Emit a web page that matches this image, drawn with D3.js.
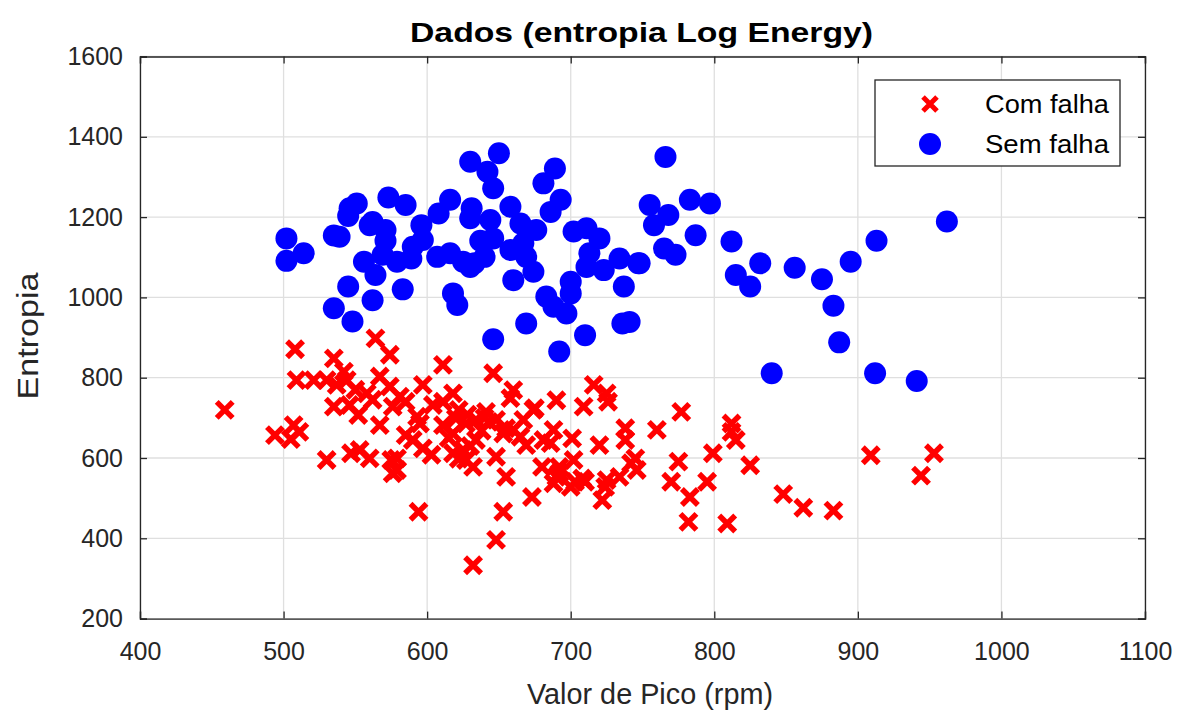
<!DOCTYPE html>
<html>
<head>
<meta charset="utf-8">
<title>Dados (entropia Log Energy)</title>
<style>
  body { margin: 0; background: #fff; }
  svg { font-family: "Liberation Sans", Arial, sans-serif; }
</style>
</head>
<body>
<script src="https://d3js.org/d3.v7.min.js"></script>
<script>
// Com falha (red x)
const comFalhaX = [459,494,507,511,505,508,509,521,530,535,530,537,542,544,535,546,552,558,547,553,
  560,564,567,567,574,574,576,575,576,550,562,611,646,597,581,585,618,611,604,660,
  658,690,709,675,593,595,585,590,597,603,579,579,611,620,627,634,641,648,655,618,
  634,625,627,632,618,648,655,667,669,665,681,688,686,701,680,690,700,708,692,673,
  594,653,648,632,702,674,660,653,692,703,688,716,725,726,777,760,738,738,720,812,
  815,812,799,745,746,742,734,710,724,722,775,770,783,795,825,782,809,848,862,883,
  909,953,944,725,622,628,638,643,630,622,640,615];
const comFalhaY = [720,657,682,665,647,871,794,794,595,848,794,782,815,794,728,732,707,761,612,620,
  599,898,803,682,857,778,728,595,562,770,745,832,811,782,753,740,761,740,732,769,
  749,744,728,724,703,686,657,645,624,608,599,570,682,699,686,695,715,695,674,661,
  645,620,595,578,612,603,553,695,632,653,645,670,637,649,578,553,528,549,578,503,
  466,466,396,333,595,720,670,661,562,541,537,782,761,740,715,670,674,645,632,686,
  645,665,612,599,570,587,553,541,528,495,591,541,503,541,582,441,437,510,476,469,
  607,612,556,545,720,708,668,690,630,598,700,650];

// Sem falha (blue circles)
const semFalhaX = [502,502,514,535,539,546,551,545,573,585,560,562,571,571,556,564,569,579,589,590,
  596,597,607,616,608,616,630,630,630,545,562,583,535,548,618,621,650,642,646,689,
  681,693,686,658,631,644,665,676,637,646,658,667,669,674,660,633,640,625,702,711,
  720,713,711,723,734,747,737,700,683,697,688,700,669,646,692,710,736,741,766,755,
  758,768,783,797,787,765,773,748,812,832,815,825,856,875,883,887,962,913,895,912,
  941,840];
const semFalhaY = [1147,1091,1110,1154,1151,1222,1234,1203,1249,1230,1180,1188,1168,1141,1089,1056,1106,1089,1097,1126,
  1180,1143,1101,1110,1209,1243,1338,1197,1076,1027,993,1020,973,940,1010,981,1359,1313,1272,1321,
  1284,1243,1213,1226,1222,1193,1184,1168,1141,1147,1118,1135,1101,1064,1043,1085,1101,1089,1164,1172,
  1147,1110,1076,1068,1097,1085,1027,1039,1002,960,977,1010,935,896,865,906,935,939,1350,1230,
  1180,1205,1243,1234,1155,1122,1106,1085,1139,1085,1056,1027,1074,1045,979,888,1189,1141,1089,811,
  792,811];

const xTicks = [400,500,600,700,800,900,1000,1100];
const yTicks = [200,400,600,800,1000,1200,1400,1600];

const W = 1186, H = 718;
const pL = 140, pR = 1145, pT = 56.5, pB = 618.6;

const svg = d3.select("body").append("svg")
  .attr("width", W).attr("height", H);

const x = d3.scaleLinear().domain([400, 1100]).range([pL, pR]);
const y = d3.scaleLinear().domain([200, 1600]).range([pB, pT]);

// grid
svg.append("g")
  .selectAll("line").data(xTicks).enter().append("line")
  .attr("x1", d => x(d)).attr("x2", d => x(d))
  .attr("y1", pT).attr("y2", pB)
  .attr("stroke", "#dfdfdf").attr("stroke-width", 1.3);
svg.append("g")
  .selectAll("line").data(yTicks).enter().append("line")
  .attr("x1", pL).attr("x2", pR)
  .attr("y1", d => y(d)).attr("y2", d => y(d))
  .attr("stroke", "#dfdfdf").attr("stroke-width", 1.3);

// axes, ticks inward
const tk = 7;
const fmt = d3.format("d");
svg.append("g")
  .attr("transform", "translate(0," + pB + ")")
  .call(d3.axisBottom(x).tickValues(xTicks).tickFormat(fmt).tickSize(-tk).tickPadding(24));
svg.append("g")
  .attr("transform", "translate(" + pL + ",0)")
  .call(d3.axisLeft(y).tickValues(yTicks).tickFormat(fmt).tickSize(-tk).tickPadding(17));
svg.append("g")
  .attr("transform", "translate(0," + pT + ")")
  .call(d3.axisTop(x).tickValues(xTicks).tickSize(-tk).tickFormat(""));
svg.append("g")
  .attr("transform", "translate(" + pR + ",0)")
  .call(d3.axisRight(y).tickValues(yTicks).tickSize(-tk).tickFormat(""));

svg.selectAll(".domain").attr("stroke", "#262626").attr("stroke-width", 1.3);
svg.selectAll(".tick line").attr("stroke", "#262626").attr("stroke-width", 1.3);
svg.selectAll(".tick text")
  .style("font-size", "25px").style("fill", "#262626")
  .style("font-family", "'Liberation Sans', Arial, sans-serif");

// red x markers
const cs = 8;
svg.append("g").selectAll("path").data(comFalhaX).enter().append("path")
  .attr("transform", (d, i) => "translate(" + x(d) + "," + y(comFalhaY[i]) + ")")
  .attr("d", "M" + (-cs) + "," + (-cs) + "L" + cs + "," + cs + "M" + (-cs) + "," + cs + "L" + cs + "," + (-cs))
  .attr("stroke", "#ff0000").attr("stroke-width", 5.5).attr("fill", "none");

// blue circles
svg.append("g").selectAll("circle").data(semFalhaX).enter().append("circle")
  .attr("cx", d => x(d))
  .attr("cy", (d, i) => y(semFalhaY[i]))
  .attr("r", 11)
  .attr("fill", "#0000ff");

// title & labels
svg.append("text")
  .attr("x", 641.5).attr("y", 42)
  .attr("text-anchor", "middle")
  .attr("textLength", 463).attr("lengthAdjust", "spacingAndGlyphs")
  .style("font-size", "28px").style("font-weight", "bold")
  .text("Dados (entropia Log Energy)");

svg.append("text")
  .attr("x", 650).attr("y", 704)
  .attr("text-anchor", "middle")
  .attr("textLength", 246).attr("lengthAdjust", "spacingAndGlyphs")
  .style("font-size", "29px").style("fill", "#262626")
  .text("Valor de Pico (rpm)");

svg.append("text")
  .attr("transform", "translate(38,336) rotate(-90)")
  .attr("text-anchor", "middle")
  .attr("textLength", 127).attr("lengthAdjust", "spacingAndGlyphs")
  .style("font-size", "30px").style("fill", "#262626")
  .text("Entropia");

// legend
const lg = svg.append("g");
lg.append("rect")
  .attr("x", 875).attr("y", 80).attr("width", 245).attr("height", 86)
  .attr("fill", "#fff").attr("stroke", "#262626").attr("stroke-width", 1.3);
lg.append("path")
  .attr("transform", "translate(930,104)")
  .attr("d", "M-7,-7L7,7M-7,7L7,-7")
  .attr("stroke", "#ff0000").attr("stroke-width", 5).attr("fill", "none");
lg.append("circle").attr("cx", 930).attr("cy", 144).attr("r", 11).attr("fill", "#0000ff");
lg.append("text").attr("x", 985).attr("y", 113)
  .attr("textLength", 124).attr("lengthAdjust", "spacingAndGlyphs")
  .style("font-size", "25px").text("Com falha");
lg.append("text").attr("x", 985).attr("y", 153)
  .attr("textLength", 124).attr("lengthAdjust", "spacingAndGlyphs")
  .style("font-size", "25px").text("Sem falha");
</script>
</body>
</html>
